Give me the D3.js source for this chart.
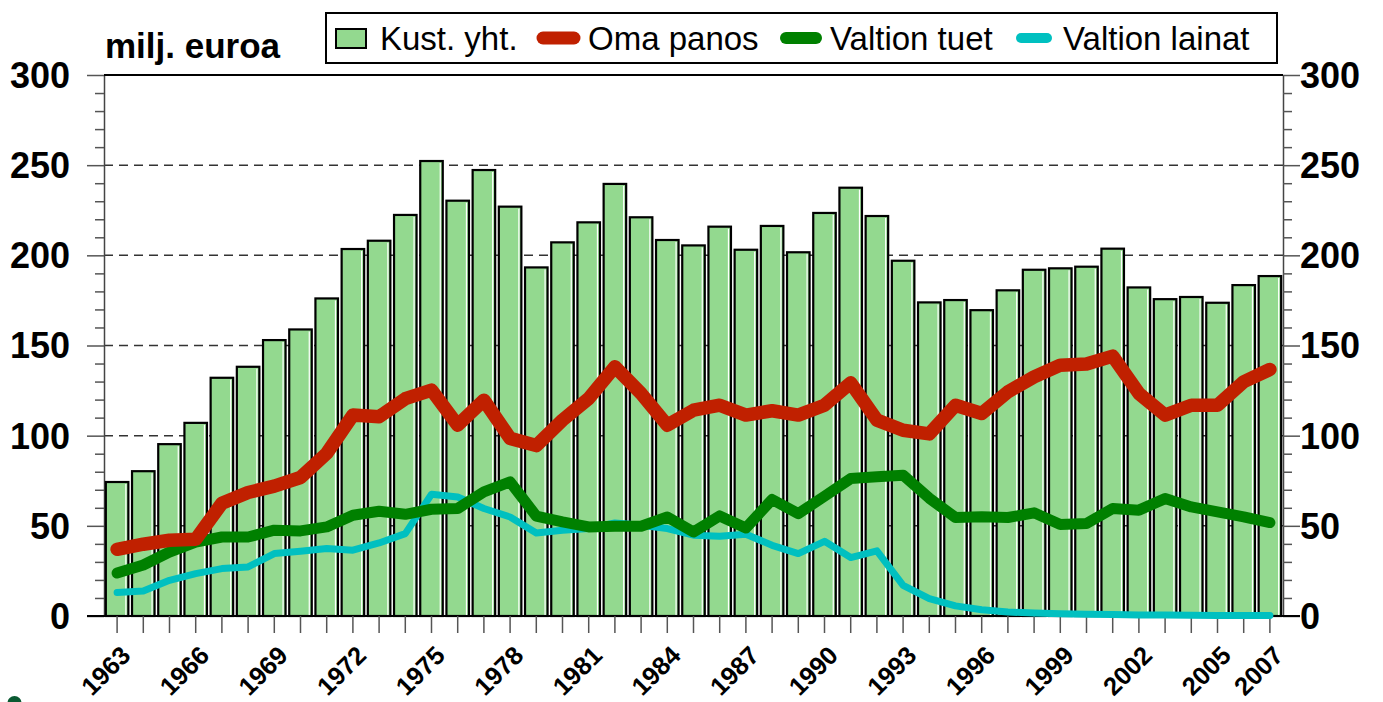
<!DOCTYPE html>
<html>
<head>
<meta charset="utf-8">
<script src="https://cdn.jsdelivr.net/npm/d3@7"></script>
<style>
  body { margin: 0; background: #fff; }
  svg { display: block; font-family: "Liberation Sans", Arial, sans-serif; }
</style>
</head>
<body>
<figure id="chart" style="margin:0"></figure>
<script>
// data (milj. euroa)
const years = [1963, 1964, 1965, 1966, 1967, 1968, 1969, 1970, 1971, 1972,
  1973, 1974, 1975, 1976, 1977, 1978, 1979, 1980, 1981, 1982,
  1983, 1984, 1985, 1986, 1987, 1988, 1989, 1990, 1991, 1992,
  1993, 1994, 1995, 1996, 1997, 1998, 1999, 2000, 2001, 2002,
  2003, 2004, 2005, 2006, 2007];
const labelYears = [1963, 1966, 1969, 1972, 1975, 1978, 1981, 1984, 1987, 1990, 1993, 1996, 1999, 2002, 2005, 2007];
const kustYht = [74.3, 80.3, 95.3, 107.1, 132.1, 138.2, 153, 158.9, 176.1, 203.5,
  208.1, 222.4, 252.3, 230.3, 247.3, 227, 193.3, 207.2, 218.3, 239.6,
  221.1, 208.5, 205.5, 215.9, 203.1, 216.3, 201.7, 223.5, 237.5, 221.8,
  197, 173.9, 175.2, 169.6, 180.6, 192, 192.8, 193.7, 203.7, 182.2,
  175.7, 176.9, 173.7, 183.5, 188.5];
const omaPanos = [37, 39.8, 42, 42.5, 62.5, 68.5, 72, 76.8, 90.2, 111.4,
  110.5, 120.5, 125.3, 105.8, 119.7, 98.5, 94.5, 108.6, 120.6, 138.2,
  123.4, 105.8, 114.1, 116.9, 111.4, 113.8, 111.4, 116.9, 129.3, 108.6,
  103, 101, 116.9, 112.3, 124.3, 132.6, 139.1, 139.7, 144.1, 123.4,
  111.4, 116.9, 116.9, 129.9, 136.7];
const valtionTuet = [23.8, 28.3, 35.5, 41, 43.8, 43.8, 47.6, 47.2, 49.4, 55.9,
  58.1, 56.4, 59.2, 59.6, 68.8, 74.4, 55.4, 52.2, 49.4, 49.8,
  49.8, 54.9, 46.6, 55.5, 48.8, 64.6, 56.8, 66.4, 76.2, 77.2,
  78.1, 65.3, 54.6, 55, 54.6, 57.2, 50.7, 51.3, 59.6, 58.7,
  65.1, 60.5, 57.7, 55, 51.8];
const valtionLainat = [13, 13.9, 19.8, 23.5, 26.3, 27.2, 34.6, 35.9, 37.4, 36.5,
  40.5, 45.7, 67.5, 66, 59.6, 54.9, 46, 47.6, 48.5, 51.6,
  50.3, 48.5, 44.8, 44.2, 45.3, 39.2, 34.6, 41.4, 32.4, 36.1,
  17, 9.6, 5.6, 3.5, 2.2, 1.6, 1.2, 1, 0.8, 0.6,
  0.5, 0.4, 0.3, 0.3, 0.3];
const yTicks = [0, 50, 100, 150, 200, 250, 300];

const width = 1383, height = 702;
const plotLeft = 104, plotRight = 1283, plotTop = 75, plotBottom = 616;

const svg = d3.select("figure#chart")
  .append("svg")
  .attr("width", width)
  .attr("height", height);

const x = d3.scaleBand()
  .domain(years)
  .range([plotLeft, plotRight])
  .paddingInner(0.14)
  .paddingOuter(0.07);

const y = d3.scaleLinear()
  .domain([0, 300])
  .range([plotBottom, plotTop]);

const cx = d => x(d) + x.bandwidth() / 2;

// dashed grid lines (behind bars)
svg.append("g")
  .selectAll("line")
  .data(yTicks.filter(d => d > 0 && d < 300))
  .enter()
  .append("line")
  .attr("x1", plotLeft).attr("x2", plotRight)
  .attr("y1", d => y(d)).attr("y2", d => y(d))
  .attr("stroke", "#333")
  .attr("stroke-width", 1.5)
  .attr("stroke-dasharray", "9,6");

// left and right axes with minor ticks every 10
const yLeft = svg.append("g")
  .attr("transform", "translate(" + plotLeft + ",0)")
  .call(d3.axisLeft(y).tickValues(d3.range(0, 301, 10)).tickFormat("")
    .tickSize(9).tickSizeOuter(0));
yLeft.selectAll(".tick line").filter(d => d % 50 === 0).attr("x2", -17);

const yRight = svg.append("g")
  .attr("transform", "translate(" + plotRight + ",0)")
  .call(d3.axisRight(y).tickValues(d3.range(0, 301, 10)).tickFormat("")
    .tickSize(9).tickSizeOuter(0));
yRight.selectAll(".tick line").filter(d => d % 50 === 0).attr("x2", 17);

svg.selectAll(".domain").attr("stroke", "#444").attr("stroke-width", 1.5);
svg.selectAll(".tick line").attr("stroke", "#555").attr("stroke-width", 1.5);

// y tick labels
svg.append("g")
  .selectAll("text")
  .data(yTicks)
  .enter()
  .append("text")
  .attr("x", 70)
  .attr("y", d => y(d))
  .attr("dy", "0.36em")
  .attr("text-anchor", "end")
  .attr("font-size", 36)
  .attr("font-weight", "bold")
  .text(d => d);

svg.append("g")
  .selectAll("text")
  .data(yTicks)
  .enter()
  .append("text")
  .attr("x", 1300)
  .attr("y", d => y(d))
  .attr("dy", "0.36em")
  .attr("font-size", 36)
  .attr("font-weight", "bold")
  .text(d => d);

// bars
const bars = svg.append("g");
bars.selectAll("rect")
  .data(years)
  .enter()
  .append("rect")
  .attr("x", d => x(d))
  .attr("y", (d, i) => y(kustYht[i]))
  .attr("width", x.bandwidth())
  .attr("height", (d, i) => y(0) - y(kustYht[i]))
  .attr("fill", "#93d98f")
  .attr("stroke", "#000")
  .attr("stroke-width", 2.2);
bars.selectAll("line")
  .data(years)
  .enter()
  .append("line")
  .attr("x1", d => x(d) + x.bandwidth() - 2.5)
  .attr("x2", d => x(d) + x.bandwidth() - 2.5)
  .attr("y1", (d, i) => y(kustYht[i]) + 2)
  .attr("y2", y(0) - 1)
  .attr("stroke", "#fff")
  .attr("stroke-width", 1.2);

// plot frame: top and bottom
svg.append("line")
  .attr("x1", plotLeft).attr("x2", plotRight)
  .attr("y1", plotTop).attr("y2", plotTop)
  .attr("stroke", "#000").attr("stroke-width", 2);
svg.append("line")
  .attr("x1", plotLeft - 17).attr("x2", plotRight + 17)
  .attr("y1", plotBottom).attr("y2", plotBottom)
  .attr("stroke", "#000").attr("stroke-width", 2);

// x ticks at each year
svg.append("g")
  .selectAll("line")
  .data(years)
  .enter()
  .append("line")
  .attr("x1", d => cx(d)).attr("x2", d => cx(d))
  .attr("y1", plotBottom).attr("y2", plotBottom + 17)
  .attr("stroke", "#555")
  .attr("stroke-width", 1.5);

// rotated year labels
svg.append("g")
  .selectAll("text")
  .data(labelYears)
  .enter()
  .append("text")
  .attr("transform", d => "translate(" + (cx(d) + 15) + ",657) rotate(-45)")
  .attr("text-anchor", "end")
  .attr("font-size", 25.5)
  .attr("font-weight", "bold")
  .text(d => d);

// lines
const line = vals => d3.line()
  .x((d, i) => cx(years[i]))
  .y(d => y(d))(vals);

const series = [
  { values: valtionLainat, color: "#00c0c0", width: 7 },
  { values: valtionTuet, color: "#008000", width: 11 },
  { values: omaPanos, color: "#c02000", width: 13.5 }
];
svg.append("g")
  .selectAll("path")
  .data(series)
  .enter()
  .append("path")
  .attr("d", d => line(d.values))
  .attr("fill", "none")
  .attr("stroke", d => d.color)
  .attr("stroke-width", d => d.width)
  .attr("stroke-linejoin", "round")
  .attr("stroke-linecap", "round");

// title
svg.append("text")
  .attr("x", 105)
  .attr("y", 58)
  .attr("font-size", 35)
  .attr("font-weight", "bold")
  .text("milj. euroa");

// legend
const legend = svg.append("g");
legend.append("rect")
  .attr("x", 326).attr("y", 13)
  .attr("width", 951).attr("height", 50)
  .attr("fill", "#fff")
  .attr("stroke", "#000")
  .attr("stroke-width", 2);
legend.append("rect")
  .attr("x", 336).attr("y", 29)
  .attr("width", 30).attr("height", 19)
  .attr("fill", "#93d98f")
  .attr("stroke", "#000")
  .attr("stroke-width", 2);

const legendItems = [
  { label: "Kust. yht.", tx: 380 },
  { label: "Oma panos", tx: 588, color: "#c02000", x1: 543, x2: 574, w: 13 },
  { label: "Valtion tuet", tx: 830, color: "#008000", x1: 786, x2: 816, w: 12 },
  { label: "Valtion lainat", tx: 1063, color: "#00c0c0", x1: 1021, x2: 1047, w: 10 }
];
legend.selectAll("line")
  .data(legendItems.filter(d => d.color))
  .enter()
  .append("line")
  .attr("x1", d => d.x1).attr("x2", d => d.x2)
  .attr("y1", 38).attr("y2", 38)
  .attr("stroke", d => d.color)
  .attr("stroke-width", d => d.w)
  .attr("stroke-linecap", "round");
legend.selectAll("text")
  .data(legendItems)
  .enter()
  .append("text")
  .attr("x", d => d.tx)
  .attr("y", 50)
  .attr("font-size", 33)
  .text(d => d.label);

// small dark dot in the bottom-left corner
svg.append("circle")
  .attr("cx", 14.5).attr("cy", 703)
  .attr("r", 7)
  .attr("fill", "#0a5a32");
</script>
</body>
</html>
